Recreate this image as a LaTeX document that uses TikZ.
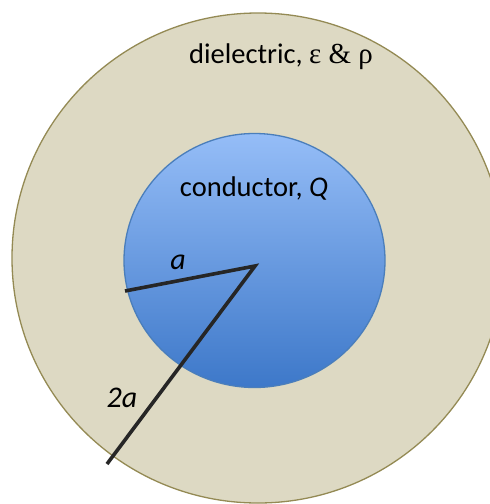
\documentclass[tikz,border=0pt]{standalone}
\usepackage{fontspec}
\setmainfont{Carlito}
\newfontfamily\symfont{Liberation Serif}
\usetikzlibrary{shapes.geometric}
\definecolor{tan}{HTML}{DDD9C3}
\definecolor{tanedge}{HTML}{948A54}
\definecolor{bluetop}{HTML}{95BDF7}
\definecolor{bluebot}{HTML}{3D78C9}
\definecolor{blueedge}{HTML}{4A7EBB}
\definecolor{radline}{HTML}{262626}
\tikzset{
  disc/.style={ellipse, inner sep=0pt, line width=1.3pt},
  radius line/.style={draw=radline, line width=3.6pt, line cap=butt, line join=miter},
  lbl/.style={font=\fontsize{28.5}{32}\selectfont, inner sep=0pt, text=black},
  lblit/.style={font=\fontsize{30}{34}\selectfont\itshape, inner sep=0pt, text=black}
}
\begin{document}
\begin{tikzpicture}[x=1pt,y=-1pt]
\useasboundingbox (0,0) rectangle (490,504);
\clip (0,0) rectangle (490,504);
\node[disc, draw=tanedge, fill=tan, minimum width=492pt, minimum height=490pt] (outer) at (258,258) {};
\node[disc, draw=blueedge, top color=bluetop, bottom color=bluebot, minimum width=261pt, minimum height=254pt] (inner) at (254.5,260.5) {};
\coordinate (c) at (255,266);
\coordinate (ea) at (125,291);
\coordinate (e2a) at (107,464);
\draw[radius line] (ea) -- (c) -- (e2a);
\node[lbl] (tdiel) at (281,57) {dielectric, {\symfont\fontsize{29}{32}\selectfont ε \& ρ}};
\node[lbl] (tcond) at (254,188) {conductor, \textit{Q}};
\node[lblit] (ta) at (178,262) {a};
\node[lblit] (t2a) at (122,398) {2a};
\end{tikzpicture}
\end{document}
